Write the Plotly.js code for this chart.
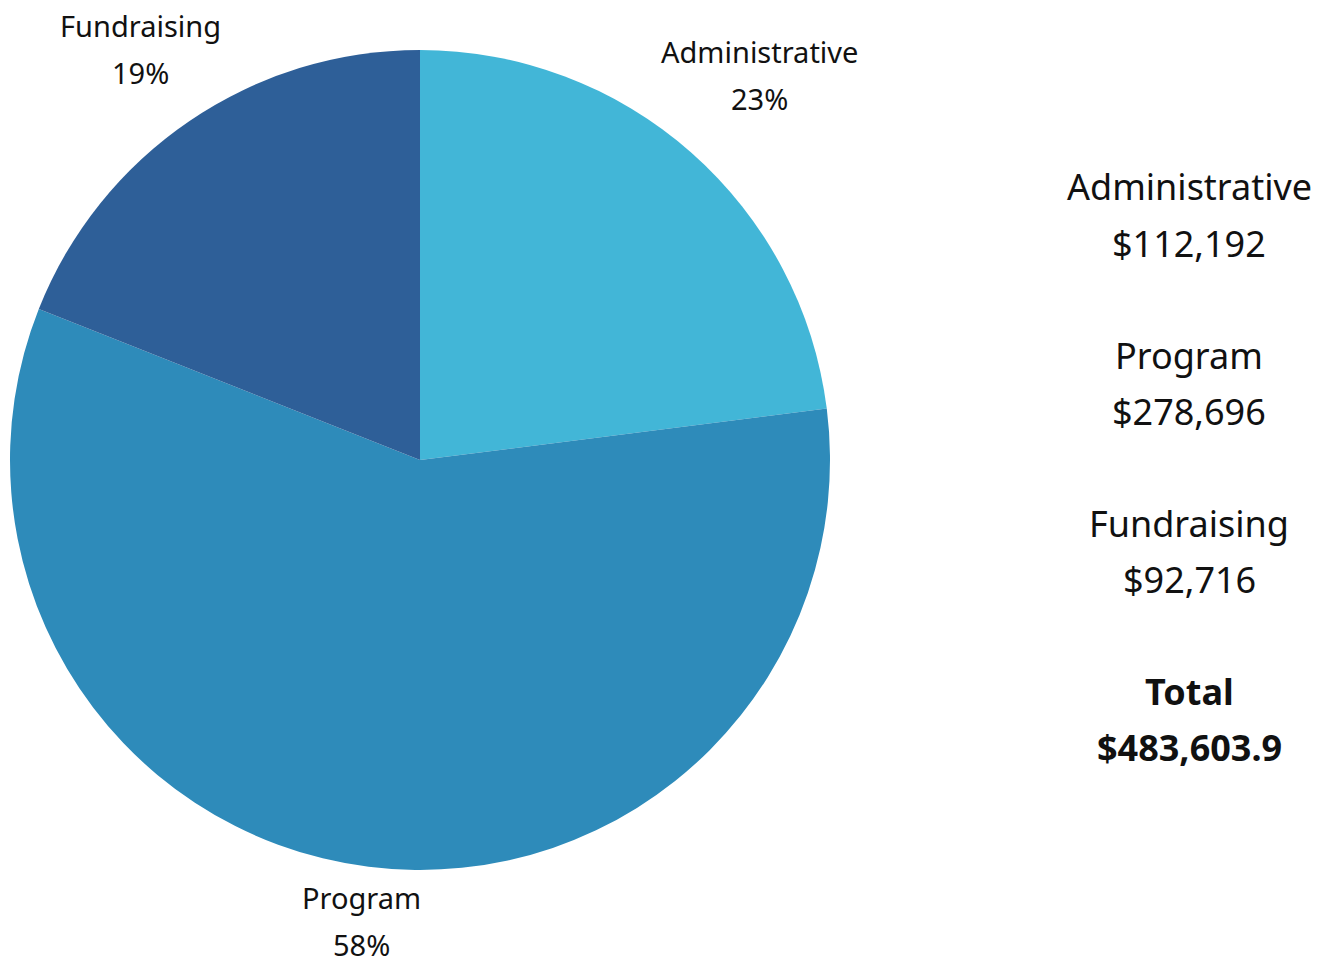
<!DOCTYPE html>
<html>
<head>
<meta charset="utf-8">
<script src="https://cdn.plot.ly/plotly-3.0.1.min.js"></script>
<style>html,body{margin:0;padding:0;background:#fff;}#chart{width:1333px;height:957px;}</style>
</head>
<body>
<div id="chart"></div>
<script>
const categories = ["Administrative", "Program", "Fundraising"];
const sharePct = [23, 58, 19];
const amounts = [112192, 278696, 92716];
const sliceColors = ["#42b6d7", "#2e8bba", "#2e5f98"];
const totalLabel = "Total";
const totalAmount = 483603.9;

const W = 1333, H = 957;
const FONT = "Noto Sans, sans-serif";
const labelSize = 29, sideSize = 36;

function fmtMoney(v, dec) {
  return "$" + v.toLocaleString("en-US", {minimumFractionDigits: dec, maximumFractionDigits: dec});
}

const dom = {x: [10/W, 830/W], y: [1 - 870/H, 1 - 50/H]};

const trace = {
  type: "pie",
  labels: categories,
  values: sharePct,
  sort: false,
  direction: "clockwise",
  rotation: 0,
  marker: {colors: sliceColors, line: {width: 0}},
  textposition: "none",
  hoverinfo: "label+percent",
  showlegend: false,
  domain: dom
};

// pie geometry derived from the domain (same rule Plotly uses)
const cxPx = (dom.x[0] + dom.x[1]) / 2 * W;
const cyPx = (1 - (dom.y[0] + dom.y[1]) / 2) * H;
const rPx = Math.min((dom.x[1] - dom.x[0]) * W, (dom.y[1] - dom.y[0]) * H) / 2;

const ctx = document.createElement("canvas").getContext("2d");
ctx.font = labelSize + "px Noto Sans";

const annotations = [];
const totalShare = sharePct.reduce((a, b) => a + b, 0);
let cum = 0;
categories.forEach((c, i) => {
  const frac = sharePct[i] / totalShare;
  const mid = (cum + frac / 2) * 2 * Math.PI;
  cum += frac;
  const pctText = Math.round(frac * 100) + "%";
  const hw = Math.max(ctx.measureText(c).width, ctx.measureText(pctText).width) / 2;
  const hh = 38, gap = 10;
  const s = Math.sin(mid), co = Math.cos(mid);
  const d = rPx + gap + hw * Math.abs(s) + hh * Math.abs(co);
  const lx = cxPx + d * s, ly = cyPx - d * co;
  [[c, -23.5], [pctText, 23.5]].forEach(([t, dy]) => {
    annotations.push({
      xref: "paper", yref: "paper",
      x: lx / W, y: 1 - (ly + dy) / H,
      xanchor: "center", yanchor: "middle",
      text: t, showarrow: false,
      font: {family: FONT, size: labelSize, color: "#111"}
    });
  });
});

// Right-side summary text built from the data
const lines = [];
categories.forEach((c, i) => {
  lines.push(c);
  lines.push(fmtMoney(amounts[i], 0));
});
lines.push("<b>" + totalLabel + "</b>");
lines.push("<b>" + fmtMoney(totalAmount, 1) + "</b>");

lines.forEach((t, k) => {
  const group = Math.floor(k / 2), within = k % 2;
  const ypx = 187 + group * 168 + within * 56;
  annotations.push({
    xref: "paper", yref: "paper",
    x: 1189 / W, y: 1 - ypx / H,
    xanchor: "center", yanchor: "middle",
    text: t, showarrow: false,
    font: {family: FONT, size: sideSize, color: "#111"}
  });
});

const layout = {
  width: W, height: H,
  margin: {l: 0, r: 0, t: 0, b: 0},
  paper_bgcolor: "#ffffff",
  plot_bgcolor: "#ffffff",
  annotations: annotations,
  showlegend: false
};

Plotly.newPlot("chart", [trace], layout, {displayModeBar: false, staticPlot: true});
</script>
</body>
</html>
